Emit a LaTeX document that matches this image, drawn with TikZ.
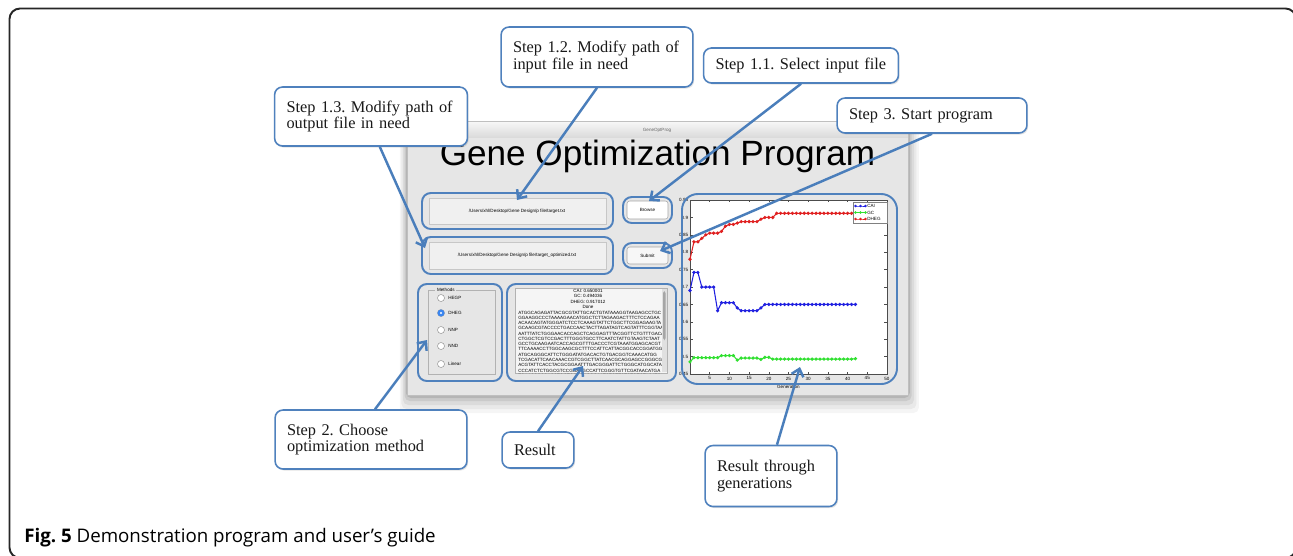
\documentclass[tikz,border=0pt]{standalone}
\usepackage{fontspec}
\setmainfont{Liberation Serif}
\newfontfamily\guifont{Liberation Sans}
\newfontfamily\capfont{Open Sans}
\usetikzlibrary{arrows.meta, shadows}

\definecolor{stepblue}{HTML}{4F81BD}
\definecolor{linkblue}{HTML}{4A7EBB}
\definecolor{wingray}{HTML}{E6E6E6}
\definecolor{radioblue}{HTML}{3A86F0}
\definecolor{caiblue}{HTML}{2020E0}
\definecolor{gcgreen}{HTML}{30E030}
\definecolor{dhegred}{HTML}{E02020}

\tikzset{
  callout/.style={draw=stepblue, line width=0.9pt, fill=white, rounded corners=4.5pt,
    drop shadow={shadow xshift=0.7pt, shadow yshift=-0.9pt, opacity=0.22},
    inner xsep=6.8pt, inner ysep=0pt, align=left, text=black!90,
    font=\fontsize{9.3}{9.4}\selectfont},
  hilite/.style={draw=stepblue, line width=1.1pt, rounded corners=5pt},
  pointer/.style={draw=linkblue, line width=1.4pt, -{Straight Barb[length=4pt,width=7pt]}},
  gui/.style={font=\guifont\fontsize{2.6}{3}\selectfont, inner sep=0pt},
  pathbox/.style={draw=black!22, fill=black!6, line width=0.3pt},
  button/.style={draw=black!35, fill=white, rounded corners=1.5pt, line width=0.3pt},
  radio/.style={draw=black!40, fill=white, line width=0.3pt},
  curve/.style={line width=0.6pt, mark=*, mark size=0.6pt},
}

\begin{document}
\frenchspacing
\begin{tikzpicture}[x=0.02cm, y=-0.02cm]
\useasboundingbox (0,0) rectangle (1293,555);

% frame of the figure
\draw[line width=1.1pt, black!85, rounded corners=6pt] (9.5,8.5) rectangle (1296,558);

% screenshot window with its shadow
\foreach \d/\o in {18/0.04, 14/0.05, 10/0.06, 6/0.08, 3/0.1}
  \fill[black, opacity=\o, rounded corners=3pt] (407-\d*0.4,121+\d*0.2) rectangle (908+\d*0.6,395+\d);
\fill[wingray] (407,121) rectangle (908,395);
\shade[top color=black!3, bottom color=black!14] (407,121) rectangle (908,137);
\draw[black!25, line width=0.3pt] (407,121) rectangle (908,395);
\node[gui, text=black!60] (wintitle) at (657,130) {GeneOptProg};
\node[font=\guifont\fontsize{20}{22}\selectfont, anchor=base, inner sep=0pt] (title) at (657.5,165) {Gene Optimization Program};

% path fields and buttons
\draw[pathbox] (429,198) rectangle (606,224);
\node[gui] (inpath) at (517,211) {/Users/xhl/Desktop/Gene Design/p file/target.txt};
\draw[pathbox] (429,242) rectangle (606,269);
\node[gui] (outpath) at (517,255.5) {/Users/xhl/Desktop/Gene Design/p file/target\_optimized.txt};
\draw[button] (627,201) rectangle (668,219);
\node[gui] (browse) at (647.5,210) {Browse};
\draw[button, fill=black!3] (627,247) rectangle (668,264);
\node[gui] (submit) at (647.5,255.5) {Submit};

% methods
\draw[black!30, line width=0.3pt] (428,290) rectangle (495,374);
\node[gui, fill=wingray, inner xsep=1pt, anchor=west] (methods) at (435,290) {Methods};
\foreach \y/\m in {298/HEGP, 313/DHEG, 330/NNP, 346/NND, 364/Linear} {
  \draw[radio] (441,\y) circle[radius=2pt];
  \node[gui, anchor=west] at (448,\y) {\m};
}
\fill[radioblue] (441,313) circle[radius=2pt];
\fill[white] (441,313) circle[radius=0.7pt];

% result text area
\fill[black!4] (515,288) rectangle (667,373);
\draw[black!30, line width=0.3pt] (515,288) rectangle (667,373);
\fill[black!12] (662,289) rectangle (666.5,372);
\fill[black!35, rounded corners=1pt] (663,291) rectangle (665.5,340);
\node[gui, align=center, anchor=north] (scores) at (588,289) {CAI: 0.650001\\GC: 0.494036\\DHEG: 0.917012\\Done};
\begin{scope}
\clip (515,288) rectangle (661,373);
\node[gui, align=left, anchor=north west] (seq) at (518,310.5) {%
ATGGCAGAGATTACGCGTATTGCACTGTATAAAGGTAAGAGCCTGC\\
GGAAGGCCCTAAAAGAACATGGCTCTTAGAAGACTTTCTCCAGAA\\
ACAACAGTATGGGATCTCCTCAAAGTATTCTGGCTTCGGAGAAGTA\\
GCAAGCGTACCCCTGACCAACTACTTAGATAGTCAGTATTTCGGTAA\\
AATTTATCTGGGAACACCAGCTCAGGAGTTTACGGTTCTGTTTGACA\\
CTGGCTCGTCCGACTTTGGGTGCCTTCAATCTATTGTAAGTCTAAT\\
GCCTGCAAGAATCACCAGCGTTTGACCCTCGTAAATGGAGCACGT\\
TTCAAAACCTTGGCAAGCGCTTTCCATTCATTACGGCACCGGATGG\\
ATGCAGGGCATTCTGGGATATGACACTGTGACGGTCAAACATGG\\
TCGACATTCAACAAACCGTCGGCTTATCAACGCAGGAGCCGGGCG\\
ACGTATTCACCTACGCGGAATTTGACGGGATTCTGGGCATGGCATA\\
CCCATCTCTGGCGTCCGGAAGCCATTCGGGTGTTCGATAACATGA\\
TGAACCGCCACCTGGTGGCCAGGGAATCTGTTCTCTGTGTACATGGA\\
TGTAACGGCCAGGAACTATGGACTCTGGGGCACAATCGATCCG\\
GAGCTTCAAGGCGTGGAATCCGACCTCAACGGTATTGAGCGATCCG};
\end{scope}

% chart
\begin{scope}[shift={(690,530.6)}, x=0.0788cm, y=6.96cm]
  \fill[white] (0,0.45) rectangle (50,0.95);
  \draw[black!70, line width=0.3pt] (0,0.45) rectangle (50,0.95);
  \foreach \g in {0,5,...,50} {
    \draw[black!70, line width=0.3pt] (\g,0.45) -- (\g,0.456) (\g,0.95) -- (\g,0.944);
  }
  \foreach \g in {5,10,...,50}
    \node[gui, anchor=north] at (\g,0.443) {\g};
  \foreach \v in {0.45,0.5,0.55,0.6,0.65,0.7,0.75,0.8,0.85,0.9,0.95} {
    \draw[black!70, line width=0.3pt] (0,\v) -- (0.8,\v) (50,\v) -- (49.2,\v);
    \node[gui, anchor=east] at (-0.4,\v) {\v};
  }
  \node[gui, anchor=north] (xlabel) at (25,0.418) {Generation};
  \draw[dhegred, curve] plot coordinates {
    (0,.78) (1,.83) (2,.83) (3,.84) (4,.85) (5,.855) (6,.855) (7,.855) (8,.86) (9,.875)
    (10,.88) (11,.88) (12,.884) (13,.888) (14,.888) (15,.888) (16,.888) (17,.888) (18,.895)
    (19,.9) (20,.9) (21,.9) (22,.912) (23,.912) (24,.912) (25,.912) (26,.912) (27,.912)
    (28,.912) (29,.912) (30,.912) (31,.912) (32,.912) (33,.912) (34,.912) (35,.912)
    (36,.912) (37,.912) (38,.912) (39,.912) (40,.912) (41,.912) (42,.912)};
  \draw[caiblue, curve] plot coordinates {
    (0,.69) (1,.742) (2,.742) (3,.70) (4,.70) (5,.70) (6,.70) (7,.632) (8,.655) (9,.655)
    (10,.655) (11,.655) (12,.64) (13,.632) (14,.632) (15,.632) (16,.632) (17,.632) (18,.64)
    (19,.65) (20,.65) (21,.65) (22,.65) (23,.65) (24,.65) (25,.65) (26,.65) (27,.65)
    (28,.65) (29,.65) (30,.65) (31,.65) (32,.65) (33,.65) (34,.65) (35,.65)
    (36,.65) (37,.65) (38,.65) (39,.65) (40,.65) (41,.65) (42,.65)};
  \draw[gcgreen, curve] plot coordinates {
    (0,.485) (1,.497) (2,.497) (3,.497) (4,.497) (5,.497) (6,.497) (7,.497) (8,.503) (9,.503)
    (10,.503) (11,.503) (12,.49) (13,.496) (14,.496) (15,.496) (16,.496) (17,.496) (18,.492)
    (19,.498) (20,.498) (21,.493) (22,.493) (23,.493) (24,.493) (25,.493) (26,.493) (27,.493)
    (28,.493) (29,.493) (30,.493) (31,.493) (32,.493) (33,.493) (34,.493) (35,.493)
    (36,.493) (37,.493) (38,.493) (39,.493) (40,.493) (41,.493) (42,.494)};
\end{scope}
% legend
\draw[black!50, fill=white, line width=0.3pt] (853,202) rectangle (887,223);
\foreach \y/\c/\t in {206/caiblue/CAI, 212.5/gcgreen/GC, 219/dhegred/DHEG} {
  \draw[\c, line width=0.4pt] plot[mark=*, mark size=0.45pt] coordinates {(855.5,\y) (860.5,\y) (865.5,\y)};
  \node[gui, anchor=west] at (867,\y) {\t};
}

% blue outlines round the parts
\draw[hilite] (422,193) rectangle (613,229);
\draw[hilite] (422,237) rectangle (613,274);
\draw[hilite] (623,197) rectangle (672,223);
\draw[hilite] (623,243) rectangle (672,268);
\draw[hilite] (418,284) rectangle (502,381);
\draw[hilite] (507,284) rectangle (676,381);
\draw[hilite, rounded corners=9pt] (682,194) rectangle (897,384);

% callouts
\node[callout, text width=3.38cm, minimum height=1.18cm] (s13) at (371,116.5) {Step 1.3. Modify path of\\output file in need};
\node[callout, text width=3.36cm, minimum height=1.2cm] (s12) at (597,57) {Step 1.2. Modify path of\\input file in need};
\node[callout, text width=3.42cm, minimum height=0.7cm] (s11) at (801,65.5) {Step 1.1. Select input file};
\node[callout, text width=3.32cm, minimum height=0.7cm] (s3) at (932,115.5) {Step 3. Start program};
\node[callout, text width=3.36cm, minimum height=1.18cm] (s2) at (371,439.5) {Step 2. Choose\\optimization method};
\node[callout, text width=0.96cm, minimum height=0.72cm] (res) at (538,450) {Result};
\node[callout, text width=2.16cm, minimum height=1.22cm] (gens) at (771,476) {Result through\\generations};

% targets
\coordinate (inpt) at (517,200);
\coordinate (outpt) at (425,248);
\coordinate (browsept) at (649,201);
\coordinate (submitpt) at (660,251);
\coordinate (methodpt) at (427,340);
\coordinate (resultpt) at (583,366);
\coordinate (curvept) at (800,367);

\draw[pointer] (s12.south) -- (inpt);
\draw[pointer] (s11.south) -- (browsept);
\draw[pointer] ([xshift=5pt]s13.south) -- (outpt);
\draw[pointer] (s3.south) -- (submitpt);
\draw[pointer] ([xshift=2.3pt]s2.north) -- (methodpt);
\draw[pointer] (res.north) -- (resultpt);
\draw[pointer] ([xshift=3.4pt]gens.north) -- (curvept);

% caption
\node[anchor=base west, inner sep=0pt, font=\capfont\fontsize{10.65}{12}\selectfont] (caption) at (24,542) {\textbf{Fig. 5} Demonstration program and user’s guide};
\end{tikzpicture}
\end{document}
